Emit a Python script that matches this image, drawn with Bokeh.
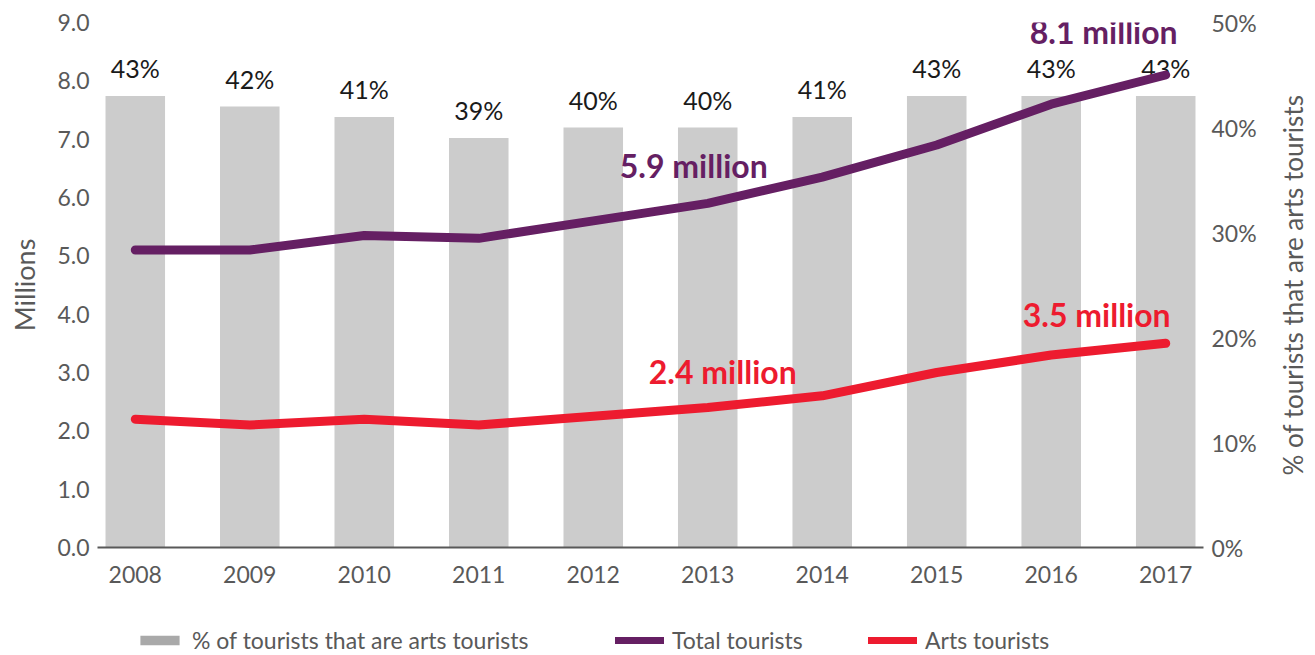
import math
from bokeh.plotting import figure
from bokeh.layouts import column, row
from bokeh.models import (Range1d, LinearAxis, FixedTicker, PrintfTickFormatter,
                          Legend, LegendItem)
from bokeh.core.properties import value
from bokeh.embed import file_html
from bokeh.resources import INLINE

years = ["2008", "2009", "2010", "2011", "2012", "2013", "2014", "2015", "2016", "2017"]
pct_arts = [43, 42, 41, 39, 40, 40, 41, 43, 43, 43]
total_tourists = [5.1, 5.1, 5.35, 5.3, 5.6, 5.9, 6.35, 6.9, 7.6, 8.1]
arts_tourists = [2.2, 2.1, 2.2, 2.1, 2.25, 2.4, 2.6, 3.0, 3.3, 3.5]
left_ticks = [0, 1, 2, 3, 4, 5, 6, 7, 8, 9]
right_ticks = [0, 10, 20, 30, 40, 50]
callout_years = ["2013", "2017"]
total_callouts = ["5.9 million", "8.1 million"]
arts_callouts = ["2.4 million", "3.5 million"]
right_title = "% of tourists that are arts tourists"
legend_labels = ["% of tourists that are arts tourists", "Total tourists", "Arts tourists"]

FONT = "Lato"
PURPLE = "#651f63"
RED = "#ed1b2f"
BAR = "#cccccc"
LEG_BAR = "#a9a9a9"
AXIS = "#595959"
NAN = float("nan")

xs = list(range(len(years)))
cx = [years.index(y) for y in callout_years]
x_end = len(years) - 1 + 0.33

TOP, FH, BOT = 22, 525, 63
RB = 66

p = figure(frame_width=1106, frame_height=FH,
           x_range=Range1d(-0.33, x_end), y_range=Range1d(0, 9),
           output_backend="svg", toolbar_location=None,
           min_border_left=97, min_border_right=RB, min_border_top=TOP, min_border_bottom=BOT,
           outline_line_color=None, background_fill_color="white", border_fill_color="white")
p.extra_y_ranges = {"pct": Range1d(0, 50)}
p.xgrid.visible = False
p.ygrid.visible = False

p.vbar(x=xs, top=pct_arts, width=0.52, y_range_name="pct", fill_color=BAR, line_color=None)
p.text(x=xs, y=pct_arts, text=[f"{v}%" for v in pct_arts], y_range_name="pct",
       text_align="center", text_baseline="bottom", y_offset=-13,
       text_font=value(FONT), text_font_size="25px", text_color="#1a1a1a")

p.line(xs, total_tourists, line_width=9, line_color=PURPLE, line_cap="round", line_join="round")
p.line(xs, arts_tourists, line_width=9, line_color=RED, line_cap="round", line_join="round")

p.text(x=cx, y=[total_tourists[i] for i in cx], text=total_callouts,
       x_offset=[-14, -62], y_offset=[-38, -44], text_align="center", text_baseline="middle",
       text_font=value(FONT), text_font_size="32px", text_font_style="bold", text_color=PURPLE)
p.text(x=cx, y=[arts_tourists[i] for i in cx], text=arts_callouts,
       x_offset=[15, -69], y_offset=[-36, -29], text_align="center", text_baseline="middle",
       text_font=value(FONT), text_font_size="32px", text_font_style="bold", text_color=RED)

# left axis
ya = p.yaxis[0]
ya.ticker = FixedTicker(ticks=left_ticks)
ya.formatter = PrintfTickFormatter(format="%.1f")
ya.axis_label = "Millions"
ya.axis_line_color = None
ya.major_tick_line_color = None
ya.minor_tick_line_color = None
ya.major_tick_out = 0
ya.major_label_standoff = 8
ya.major_label_text_font = FONT
ya.major_label_text_font_size = "23px"
ya.major_label_text_color = AXIS
ya.axis_label_text_font = FONT
ya.axis_label_text_font_size = "27px"
ya.axis_label_text_font_style = "normal"
ya.axis_label_text_color = AXIS
ya.axis_label_standoff = 13

# right axis
ra = LinearAxis(y_range_name="pct", ticker=FixedTicker(ticks=right_ticks),
                formatter=PrintfTickFormatter(format="%d%%"))
ra.axis_line_color = None
ra.major_tick_line_color = None
ra.minor_tick_line_color = None
ra.major_tick_out = 0
ra.major_label_standoff = 8
ra.major_label_text_font = FONT
ra.major_label_text_font_size = "23px"
ra.major_label_text_color = AXIS
p.add_layout(ra, "right")

# x axis
xa = p.xaxis[0]
xa.ticker = FixedTicker(ticks=xs)
xa.major_label_overrides = {i: y for i, y in enumerate(years)}
xa.axis_line_color = AXIS
xa.axis_line_width = 2
xa.major_tick_line_color = None
xa.minor_tick_line_color = None
xa.major_tick_out = 0
xa.major_label_standoff = 18
xa.major_label_text_font = FONT
xa.major_label_text_font_size = "23px"
xa.major_label_text_color = AXIS

P_W = 97 + 1106 + RB
P_H = TOP + FH + BOT
T_W = 1314 - P_W

# right-hand axis title (reads bottom to top)
tfig = figure(width=T_W, height=P_H, x_range=Range1d(0, 1), y_range=Range1d(0, 9),
              x_axis_type=None, y_axis_type=None, output_backend="svg", toolbar_location=None,
              min_border_left=0, min_border_right=0, min_border_top=TOP, min_border_bottom=BOT,
              outline_line_color=None, background_fill_color="white", border_fill_color="white")
tfig.xgrid.visible = False
tfig.ygrid.visible = False
tfig.text(x=[0], y=[4.5], text=[right_title], x_offset=1292 - P_W, angle=math.pi / 2,
          text_align="center", text_baseline="middle",
          text_font=value(FONT), text_font_size="26px", text_color=AXIS)

# legend strip (legend proxies carry no visible data)
lfig = figure(width=1314, height=44, x_range=Range1d(0, 1), y_range=Range1d(0, 1),
              x_axis_type=None, y_axis_type=None, output_backend="svg", toolbar_location=None,
              min_border=0, outline_line_color=None,
              background_fill_color="white", border_fill_color="white")
lfig.xgrid.visible = False
lfig.ygrid.visible = False
lg_bar = lfig.vbar(x=[NAN], top=[NAN], width=0.5, fill_color=LEG_BAR, line_color=None)
lg_total = lfig.line(x=[NAN], y=[NAN], line_width=7, line_color=PURPLE, line_cap="round")
lg_arts = lfig.line(x=[NAN], y=[NAN], line_width=7, line_color=RED, line_cap="round")

for label, rend, xloc in zip(legend_labels, [lg_bar, lg_total, lg_arts], [135, 615, 868]):
    lfig.add_layout(Legend(
        items=[LegendItem(label=label, renderers=[rend])],
        orientation="horizontal", location=(xloc, 0),
        glyph_width=49, glyph_height=12, label_standoff=8,
        label_text_font=FONT, label_text_font_size="23px", label_text_color=AXIS,
        border_line_color=None, background_fill_alpha=0, padding=0, margin=0), "center")

layout = column(row(p, tfig), lfig)
open("out.html", "w").write(file_html(layout, INLINE))
